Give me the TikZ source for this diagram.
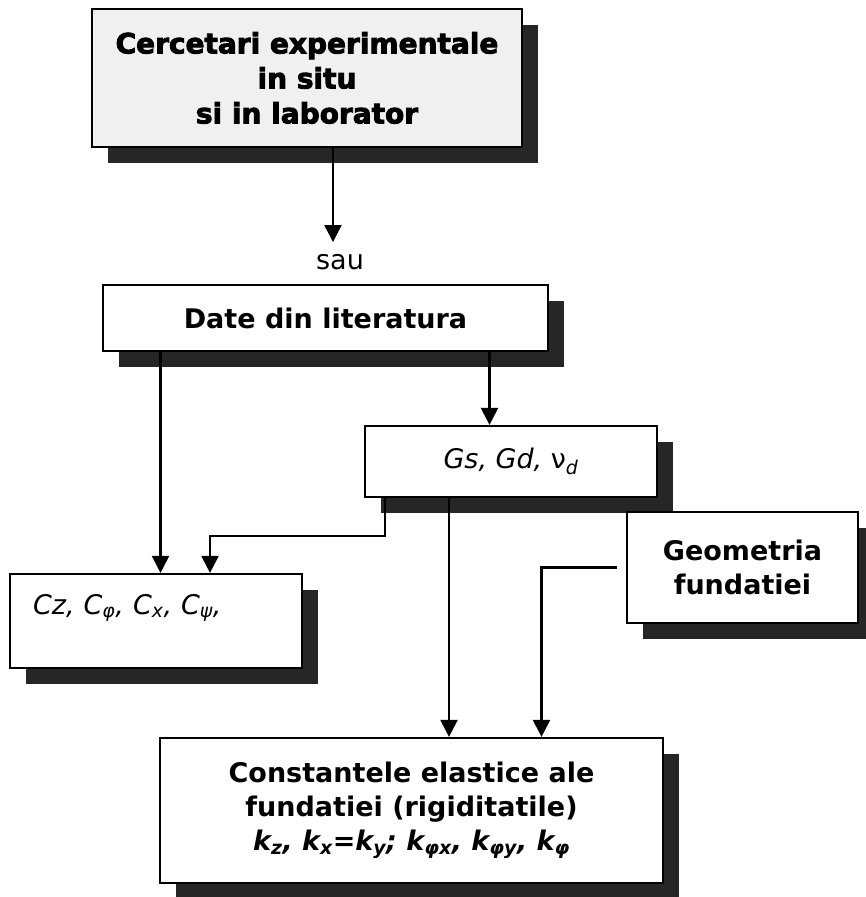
\documentclass[tikz,border=0pt]{standalone}
\usepackage{fontspec}
\setmainfont{DejaVu Sans}
\usepackage{tikz}
\usetikzlibrary{arrows.meta,shadows}

\tikzset{
  box/.style={draw,rectangle,line width=2.2pt,fill=white,
    drop shadow={shadow xshift=16pt,shadow yshift=-16pt,fill=black!85,opacity=1}},
  arr/.style={line width=2.2pt,-{Triangle[length=17pt,width=17pt]}},
  bigtxt/.style={font=\fontsize{27}{34}\selectfont\bfseries,align=center},
  txt/.style={font=\fontsize{27}{32}\selectfont},
}

\begin{document}
\begin{tikzpicture}[x=1pt,y=-1pt]
\useasboundingbox (0,0) rectangle (865,897);

% Sources of data
\node[box,fill=gray!12,minimum width=430pt,minimum height=138pt,bigtxt,
      font=\fontsize{28}{35}\selectfont\bfseries\addfontfeatures{FakeBold=3}] (cerc) at (307,78)
      {Cercetari experimentale\\in situ\\si in laborator};
\node[txt,inner sep=12pt] (sau) at (340,262) {sau};
\node[box,minimum width=445pt,minimum height=66pt,bigtxt] (date) at (325.5,318)
      {Date din literatura};

% Soil parameters
\node[box,minimum width=292pt,minimum height=71pt,txt,font=\fontsize{27}{32}\selectfont\itshape]
      (gs) at (511,461.5) {Gs, Gd, {\upshape ν}\textsubscript{d}};
\node[box,minimum width=292pt,minimum height=94pt,txt,font=\fontsize{27}{32}\selectfont\itshape,
      text width=246pt,align=left,inner xsep=23pt,text height=20pt,text depth=34pt]
      (cz) at (156,621) {Cz, C\textsubscript{φ}, C\textsubscript{x}, C\textsubscript{ψ},};
\node[box,minimum width=231pt,minimum height=111pt,bigtxt] (geo) at (742.5,567.5)
      {Geometria\\fundatiei};

% Result
\node[box,minimum width=503pt,minimum height=145pt,bigtxt] (const) at (411.5,810.5)
      {Constantele elastice ale\\fundatiei (rigiditatile)\\
       \itshape k\textsubscript{z}, k\textsubscript{x}=k\textsubscript{y}; k\textsubscript{φx}, k\textsubscript{φy}, k\textsubscript{φ}};

% Connectors
\coordinate (c1) at ([xshift=26pt]cerc.south);
\coordinate (dL) at ([xshift=-165pt]date.south);
\coordinate (dR) at ([xshift=164pt]date.south);
\coordinate (gL) at ([xshift=-126pt]gs.south);
\coordinate (gR) at ([xshift=-62pt]gs.south);
\coordinate (czR) at ([xshift=54pt]cz.north);
\coordinate (kR) at ([xshift=130pt]const.north);

\draw[arr] (c1) -- (c1 |- sau.north);
\draw[arr] (dL) -- (dL |- cz.north);
\draw[arr] (dR) -- (dR |- gs.north);
\draw[arr] (gL) -- ++(0,38) -| (czR);
\draw[arr] (gR) -- (gR |- const.north);
\draw[arr] ([xshift=-9pt]geo.west) -| (kR);
\end{tikzpicture}
\end{document}
